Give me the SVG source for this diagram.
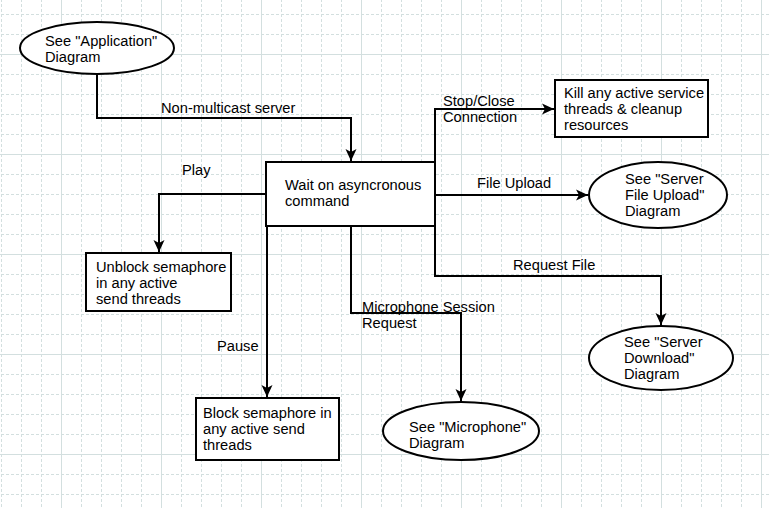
<svg xmlns="http://www.w3.org/2000/svg" width="769" height="508" viewBox="0 0 769 508">
<defs>
<pattern id="grid" patternUnits="userSpaceOnUse" x="1" y="14" width="100" height="100">
<g stroke="#d3dfdf" stroke-width="1" stroke-dasharray="3 2" fill="none">
<path d="M0.5,0V100M20.5,0V100M40.5,0V100M80.5,0V100"/>
<path d="M0,0.5H100M0,20.5H100M0,60.5H100M0,80.5H100"/>
</g>
<g stroke="#d3dfdf" stroke-width="1" fill="none">
<path d="M60.5,0V100M0,40.5H100"/>
</g>
</pattern>
<marker id="arr" markerUnits="userSpaceOnUse" markerWidth="16" markerHeight="14" refX="13" refY="6" orient="auto" viewBox="0 0 16 14">
<path d="M13,6 L1,0.5 L4,6 L1,11.5 Z" fill="#000"/>
</marker>
</defs>
<style>
text{font-family:"Liberation Sans",Arial,sans-serif;font-size:14.67px;fill:#000}
.n{fill:#fff;stroke:#000;stroke-width:2}
.c{fill:none;stroke:#000;stroke-width:2;marker-end:url(#arr)}
</style>
<rect width="769" height="508" fill="#fff"/>
<rect width="769" height="508" fill="url(#grid)"/>

<g id="connectors">
<path class="c" d="M97,74 V118 H351 V161"/>
<path class="c" d="M266,194 H159 V252"/>
<path class="c" d="M267,226 V397"/>
<path class="c" d="M351,226 V313 H461 V401"/>
<path class="c" d="M435,162 V109 H554"/>
<path class="c" d="M435,195 H588"/>
<path class="c" d="M435,226 V276 H661 V325"/>
<text x="161" y="113">Non-multicast server</text>
<text x="182" y="175">Play</text>
<text x="217" y="351">Pause</text>
<text x="362" y="312">Microphone Session</text>
<text x="362" y="328">Request</text>
<text x="443" y="106">Stop/Close</text>
<text x="443" y="122">Connection</text>
<text x="477" y="188">File Upload</text>
<text x="513" y="270">Request File</text>
</g>

<g id="app">
<ellipse class="n" cx="97" cy="48" rx="77" ry="26"/>
<text x="45" y="46">See "Application"</text>
<text x="45" y="62">Diagram</text>
</g>

<g id="wait">
<rect class="n" x="266" y="162" width="169" height="64"/>
<text x="285" y="190">Wait on asyncronous</text>
<text x="285" y="206">command</text>
</g>

<g id="unblock">
<rect class="n" x="86" y="253" width="145" height="58"/>
<text x="96" y="272">Unblock semaphore</text>
<text x="96" y="288">in any active</text>
<text x="96" y="304">send threads</text>
</g>

<g id="block">
<rect class="n" x="196" y="398" width="143" height="62"/>
<text x="203" y="418">Block semaphore in</text>
<text x="203" y="434">any active send</text>
<text x="203" y="450">threads</text>
</g>

<g id="microphone">
<ellipse class="n" cx="461" cy="431" rx="78" ry="29"/>
<text x="409" y="432">See "Microphone"</text>
<text x="409" y="448">Diagram</text>
</g>

<g id="kill">
<rect class="n" x="555" y="80" width="153" height="57"/>
<text x="564" y="98">Kill any active service</text>
<text x="564" y="114">threads &amp; cleanup</text>
<text x="564" y="130">resources</text>
</g>

<g id="upload">
<ellipse class="n" cx="658" cy="195" rx="69" ry="33"/>
<text x="625" y="184">See "Server</text>
<text x="625" y="200">File Upload"</text>
<text x="625" y="216">Diagram</text>
</g>

<g id="download">
<ellipse class="n" cx="661" cy="358" rx="72" ry="32"/>
<text x="624" y="347">See "Server</text>
<text x="624" y="363">Download"</text>
<text x="624" y="379">Diagram</text>
</g>
</svg>
